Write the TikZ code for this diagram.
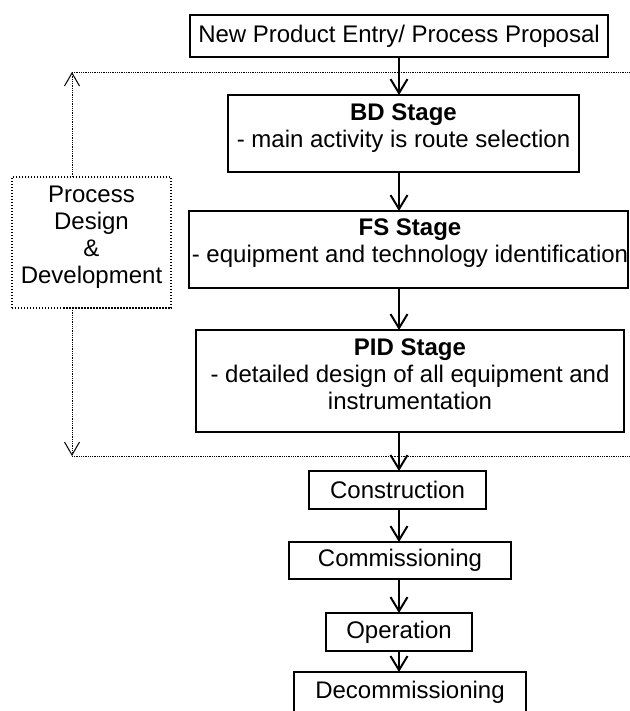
\documentclass[tikz,border=0pt]{standalone}
\usepackage{fontspec}
\setmainfont{Liberation Sans}
\usetikzlibrary{arrows.meta}
\begin{document}
\begin{tikzpicture}[x=1bp,y=-1bp,
  every node/.style={font=\fontsize{24bp}{27bp}\selectfont, inner sep=0pt, outer sep=0pt, align=center},
  box/.style={draw, line width=1.5bp, rectangle},
  arr/.style={line width=2bp, -{Straight Barb[length=14bp,width=17bp,line width=2bp]}},
  dotline/.style={line width=0.8bp, densely dotted},
  dotarr/.style={line width=0.8bp, densely dotted, -{Straight Barb[length=13bp,width=15bp,line width=1bp]}},
  dotbox/.style={draw, line width=1.5bp, dash pattern=on 1.5bp off 1.5bp}]
\useasboundingbox (0,0) rectangle (630,711);
\clip (0,0) rectangle (630,711);
% column for main arrows
\coordinate (col) at (399,0);
\coordinate (tl) at (72,72);
\coordinate (tr) at (630,72);
\coordinate (bl) at (72,456);
\coordinate (br) at (630,456);
% boxes
\node[box, minimum width=418bp, minimum height=42bp] (entry) at (399,36) {New Product Entry/ Process Proposal};
\node[box, minimum width=351bp, minimum height=77bp] (bd) at (403.5,133.5) {};
\node (bdt) at (403.5,128.5) {\textbf{BD Stage}\\- main activity is route selection};
\node[box, minimum width=439bp, minimum height=77bp] (fs) at (408.5,249.5) {};
\node (fst) at (410,243.5) {\textbf{FS Stage}\\- equipment and technology identification};
\node[box, minimum width=428bp, minimum height=102bp] (pid) at (410,381) {};
\node (pidt) at (410,374.5) {\textbf{PID Stage}\\- detailed design of all equipment and\\instrumentation};
\node[box, minimum width=177bp, minimum height=38bp] (cons) at (397.5,490) {Construction};
\node[box, minimum width=222bp, minimum height=37bp] (comm) at (400,560.5) {Commissioning};
\node[box, minimum width=146bp, minimum height=38bp] (oper) at (399,632) {Operation};
\node[box, minimum width=232bp, minimum height=40bp] (decomm) at (410,692) {Decommissioning};
% side box
\node[dotbox, minimum width=159bp, minimum height=131bp] (pdd) at (91.5,242.5) {};
\node (pddt) at (91.5,237) {Process\\Design\\\&\\Development};
% dotted frame lines
\draw[dotline] (tl) -- (tr);
\draw[dotline] (bl) -- (br);
\draw[dotarr] (pdd.north -| tl) -- (tl);
\draw[dotarr] (pdd.south -| bl) -- (bl);
% main arrows
\draw[arr] (entry.south -| col) -- (bd.north -| col);
\draw[arr] (bd.south -| col) -- (fs.north -| col);
\draw[arr] (fs.south -| col) -- (pid.north -| col);
\draw[arr] (pid.south -| col) -- (cons.north -| col);
\draw[arr] (cons.south -| col) -- (comm.north -| col);
\draw[arr] (comm.south -| col) -- (oper.north -| col);
\draw[arr] (oper.south -| col) -- (decomm.north -| col);
\end{tikzpicture}
\end{document}
